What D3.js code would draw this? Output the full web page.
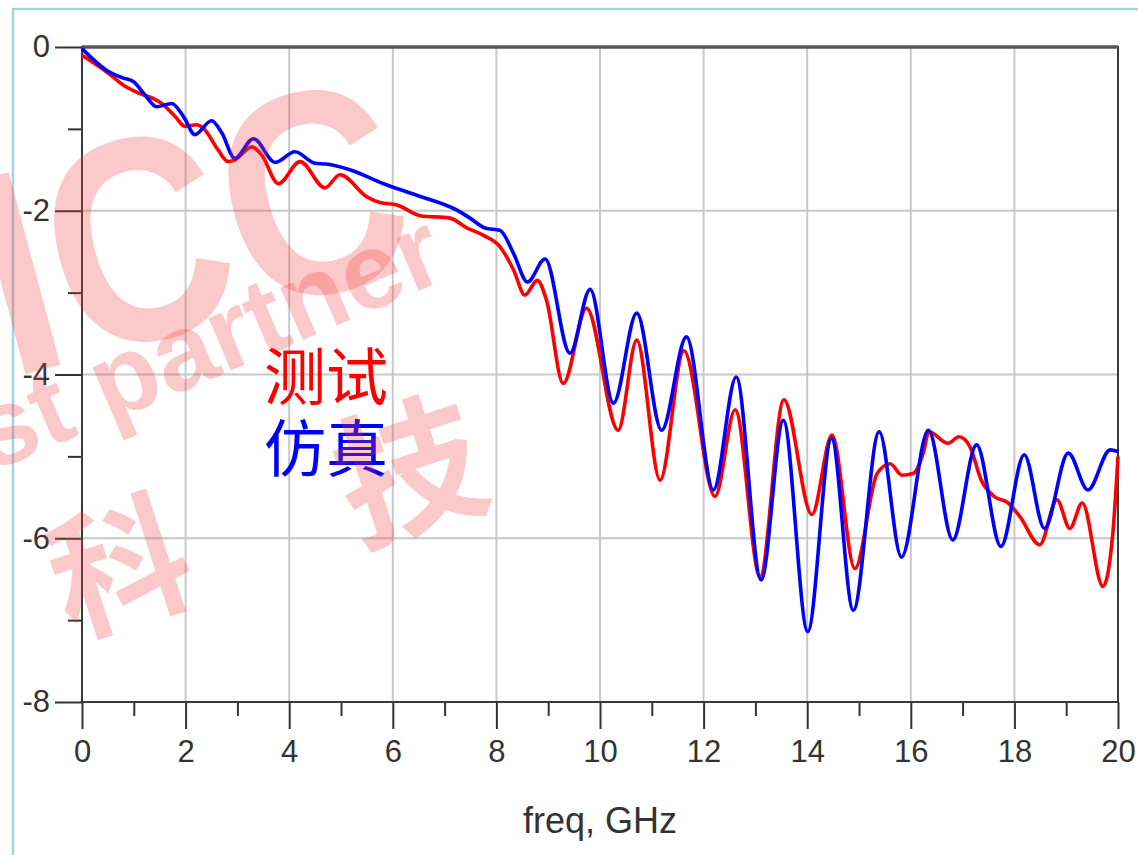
<!DOCTYPE html>
<html>
<head>
<meta charset="utf-8">
<script src="https://cdn.jsdelivr.net/npm/d3@7"></script>
<style>
	html, body { margin: 0; padding: 0; background: #fff; }
	svg { display: block; }
	.tick text { font-family: "Liberation Sans", Arial, sans-serif; fill: #333; }
</style>
</head>
<body>
<svg id="chart" width="1138" height="855"></svg>
<script>
// measured curve (测试)
const measFreq = [0, 0.51, 0.83, 1.12, 1.38, 1.54, 1.8, 1.99, 2.21, 2.34, 2.63, 2.82, 2.95, 3.28, 3.47, 3.79, 4.21, 4.69, 4.98,
	5.5, 5.75, 6.08, 6.53, 7.1, 7.43, 7.75, 8.07, 8.33, 8.55, 8.79, 8.97, 9.29, 9.74, 10.35, 10.71, 11.16, 11.62, 12.22, 12.61,
	13.09, 13.55, 14.09, 14.48, 14.92, 15.35, 15.6, 15.83, 16.04, 16.24, 16.35, 16.72, 16.93, 17.14, 17.36, 17.61, 17.88,
	18.11, 18.49, 18.82, 19.07, 19.31, 19.71, 19.9, 20];
const measDb = [-0.1, -0.32, -0.48, -0.57, -0.63, -0.69, -0.85, -0.97, -0.95, -0.99, -1.26, -1.4, -1.38, -1.22, -1.32, -1.67, -1.4, -1.72, -1.56,
	-1.83, -1.9, -1.93, -2.06, -2.09, -2.21, -2.3, -2.44, -2.72, -3.03, -2.85, -3.1, -4.11, -3.19, -4.68, -3.58, -5.29, -3.71, -5.49, -4.43,
	-6.47, -4.31, -5.71, -4.74, -6.37, -5.21, -5.09, -5.23, -5.21, -4.96, -4.7, -4.84, -4.76, -4.88, -5.29, -5.49, -5.57,
	-5.74, -6.08, -5.53, -5.88, -5.57, -6.59, -5.94, -5.0];

// simulated curve (仿真)
const simFreq = [0, 0.51, 0.8, 0.99, 1.22, 1.44, 1.73, 1.96, 2.18, 2.5, 2.7, 2.95, 3.31, 3.73, 4.11, 4.5, 4.72, 5.17,
	5.82, 6.46, 7.23, 7.49, 7.78, 8.07, 8.33, 8.6, 8.94, 9.42, 9.81, 10.26, 10.71, 11.19, 11.67, 12.19, 12.63, 13.11, 13.54,
	14.01, 14.47, 14.89, 15.39, 15.82, 16.34, 16.81, 17.27, 17.74, 18.19, 18.58, 19.04, 19.42, 19.85, 20];
const simDb = [-0.02, -0.3, -0.38, -0.42, -0.59, -0.73, -0.69, -0.85, -1.07, -0.9, -1.05, -1.36, -1.12, -1.41, -1.28, -1.42, -1.43, -1.5,
	-1.67, -1.81, -1.99, -2.09, -2.21, -2.24, -2.52, -2.87, -2.59, -3.74, -2.96, -4.35, -3.25, -4.68, -3.54, -5.41, -4.03, -6.51, -4.56,
	-7.14, -4.78, -6.88, -4.7, -6.23, -4.68, -6.02, -4.86, -6.1, -4.98, -5.88, -4.96, -5.41, -4.92, -4.94];

const xMajor = [0, 2, 4, 6, 8, 10, 12, 14, 16, 18, 20];
const xMinor = [1, 3, 5, 7, 9, 11, 13, 15, 17, 19];
const yMajor = [0, -2, -4, -6, -8];
const yMinor = [-1, -3, -5, -7];
const legendLabels = ["测试", "仿真"];
const xTitle = "freq, GHz";

const svg = d3.select("#chart");

var margin = { left: 82, right: 20, top: 47, bottom: 153 };
var width = 1138 - margin.left - margin.right;
var height = 855 - margin.top - margin.bottom;

var x = d3.scaleLinear().domain([0, 20]).range([0, width]);
var y = d3.scaleLinear().domain([-8, 0]).range([height, 0]);

// plain hyphen for negatives, like the original plot
var fmt = function(d) { return String(d); };

// outer light blue frame of the screenshot
svg.append("path")
	.attr("d", "M13,855 V9 H1138")
	.attr("fill", "none")
	.attr("stroke", "#a6d2df")
	.attr("stroke-width", 2.5);

var g = svg.append("g")
	.attr("transform", `translate(${margin.left},${margin.top})`);

//grid
g.append("g")
	.selectAll("line")
	.data(xMajor.slice(1, -1))
	.enter().append("line")
	.attr("x1", d => x(d)).attr("x2", d => x(d))
	.attr("y1", 0).attr("y2", height)
	.attr("stroke", "#c8c8c8")
	.attr("stroke-width", 2);

g.append("g")
	.selectAll("line")
	.data(yMajor.slice(1, -1))
	.enter().append("line")
	.attr("x1", 0).attr("x2", width)
	.attr("y1", d => y(d)).attr("y2", d => y(d))
	.attr("stroke", "#c8c8c8")
	.attr("stroke-width", 2);

//axes
function styleAxis(sel) {
	sel.select(".domain").remove();
	sel.selectAll(".tick line").attr("stroke", "#333").attr("stroke-width", 2);
	sel.selectAll(".tick text").style("font-size", "31px");
}

g.append("g")
	.call(d3.axisLeft(y).tickValues(yMajor).tickSize(27).tickPadding(5).tickFormat(fmt))
	.call(styleAxis);
g.append("g")
	.call(d3.axisLeft(y).tickValues(yMinor).tickSize(14).tickFormat(""))
	.call(styleAxis);
g.append("g")
	.attr("transform", `translate(0,${height})`)
	.call(d3.axisBottom(x).tickValues(xMajor).tickSize(27).tickPadding(11).tickFormat(fmt))
	.call(styleAxis);
g.append("g")
	.attr("transform", `translate(0,${height})`)
	.call(d3.axisBottom(x).tickValues(xMinor).tickSize(14).tickFormat(""))
	.call(styleAxis);

// plot frame
g.append("rect")
	.attr("width", width)
	.attr("height", height)
	.attr("fill", "none")
	.attr("stroke", "#3a3a3a")
	.attr("stroke-width", 2);
g.append("line")
	.attr("x1", 0).attr("x2", width)
	.attr("y1", 0).attr("y2", 0)
	.attr("stroke", "#555")
	.attr("stroke-width", 3.5);

//curves
var line = d3.line()
	.x(d => x(d[0]))
	.y(d => y(d[1]))
	.curve(d3.curveMonotoneX);

g.append("path")
	.datum(d3.zip(measFreq, measDb))
	.attr("d", line)
	.attr("fill", "none")
	.attr("stroke", "#ff0000")
	.attr("stroke-width", 3.6)
	.attr("stroke-linejoin", "round");

g.append("path")
	.datum(d3.zip(simFreq, simDb))
	.attr("d", line)
	.attr("fill", "none")
	.attr("stroke", "#0000ff")
	.attr("stroke-width", 3.6)
	.attr("stroke-linejoin", "round");

// x title
svg.append("text")
	.attr("x", margin.left + width / 2)
	.attr("y", 833)
	.attr("text-anchor", "middle")
	.style("font-family", "Liberation Sans, Arial, sans-serif")
	.style("font-size", "36px")
	.attr("fill", "#333")
	.text(xTitle);

// legend labels
svg.selectAll(".legend")
	.data(legendLabels)
	.enter().append("text")
	.attr("class", "legend")
	.attr("x", 264)
	.attr("y", (d, i) => 400 + i * 72)
	.style("font-family", "Noto Sans CJK SC, sans-serif")
	.style("font-size", "62px")
	.attr("fill", (d, i) => i === 0 ? "#ff0000" : "#0000ff")
	.text(d => d);

// watermark on top
var wm = svg.append("g")
	.attr("fill", "rgb(240,60,60)")
	.attr("fill-opacity", 0.28)
	.style("font-family", "Liberation Sans, Arial, sans-serif")
	.style("font-weight", "bold");

wm.append("text")
	.attr("transform", "translate(190,222) rotate(-15)")
	.attr("text-anchor", "middle")
	.attr("dy", "0.36em")
	.attr("textLength", 430)
	.attr("lengthAdjust", "spacingAndGlyphs")
	.style("font-size", "290px")
	.text("ICC");

wm.append("text")
	.attr("transform", "translate(-8,472) rotate(-23)")
	.style("font-size", "108px")
	.text("st partner");

wm.append("text")
	.attr("transform", "translate(120,568) rotate(-18)")
	.attr("text-anchor", "middle")
	.attr("dy", "0.36em")
	.style("font-family", "Noto Sans CJK SC, sans-serif")
	.style("font-size", "138px")
	.text("科");

wm.append("text")
	.attr("transform", "translate(410,472) rotate(-18)")
	.attr("text-anchor", "middle")
	.attr("dy", "0.36em")
	.style("font-family", "Noto Sans CJK SC, sans-serif")
	.style("font-size", "146px")
	.text("技");
</script>
</body>
</html>
